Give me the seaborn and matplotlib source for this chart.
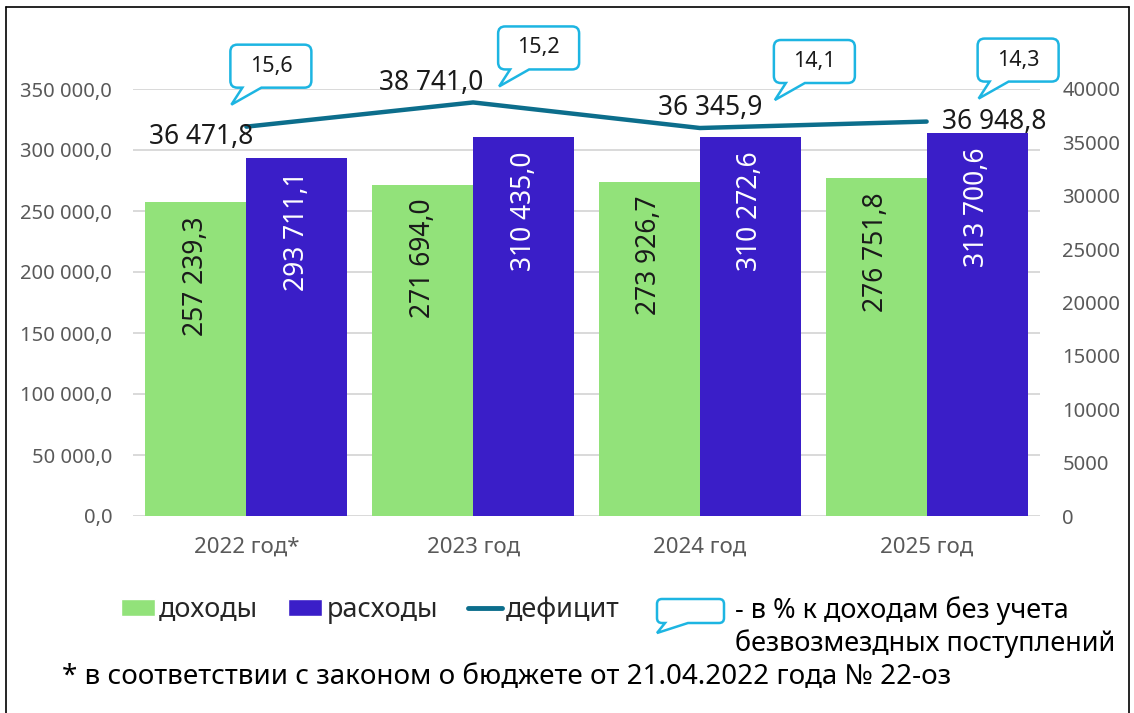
import matplotlib
matplotlib.use("Agg")
import numpy as np
import pandas as pd
import matplotlib.pyplot as plt
import seaborn as sns
from matplotlib.path import Path
from matplotlib.patches import PathPatch, Patch
from matplotlib.lines import Line2D
from matplotlib.ticker import FuncFormatter, MultipleLocator

# =============================================================================
# 1. DATA
# =============================================================================
years = ["2022 год*", "2023 год", "2024 год", "2025 год"]
income = [257239.3, 271694.0, 273926.7, 276751.8]      # доходы
expenses = [293711.1, 310435.0, 310272.6, 313700.6]    # расходы
deficit = [36471.8, 38741.0, 36345.9, 36948.8]         # дефицит
deficit_pct = [15.6, 15.2, 14.1, 14.3]                 # % к доходам без учета безвозмездных поступлений
series_names = ["доходы", "расходы"]

df = pd.DataFrame({
    "year": years * 2,
    "value": income + expenses,
    "kind": [series_names[0]] * len(years) + [series_names[1]] * len(years),
})

# =============================================================================
# 2. STYLE
# =============================================================================
sns.set_style("white")
plt.rcParams["font.family"] = ["Noto Sans", "DejaVu Sans"]

GREEN = "#92E27A"
BLUE = "#3A1EC8"
LINE = "#0C6E8C"
CYAN = "#1DB5E2"
GRID = "#D9D9D9"
TICK = "#595959"
TEXT = "#1A1A1A"

W, H = 1134, 713


def fx(x):
    return x / W


def fy(y):
    return 1 - y / H


def fmt_ru(v, dec=1):
    s = f"{v:,.{dec}f}"
    return s.replace(",", " ").replace(".", ",")


def bubble(L, T, w, h, tip, base, r=7, lw=1.8):
    # speech bubble, given in image pixels (y down)
    R, B = L + w, T + h
    pts = [(base[0], B), tip, (base[1], B), (R - r, B), (R, B), (R, B - r),
           (R, T + r), (R, T), (R - r, T), (L + r, T), (L, T), (L, T + r),
           (L, B - r), (L, B), (L + r, B), (base[0], B), (base[0], B)]
    codes = [Path.MOVETO, Path.LINETO, Path.LINETO, Path.LINETO,
             Path.CURVE3, Path.CURVE3, Path.LINETO, Path.CURVE3, Path.CURVE3,
             Path.LINETO, Path.CURVE3, Path.CURVE3, Path.LINETO,
             Path.CURVE3, Path.CURVE3, Path.LINETO, Path.CLOSEPOLY]
    verts = [(fx(px), fy(py)) for px, py in pts]
    p = PathPatch(Path(verts, codes), transform=fig.transFigure,
                  facecolor="white", edgecolor=CYAN, lw=lw, zorder=5)
    fig.add_artist(p)


# =============================================================================
# 3. PLOT
# =============================================================================
fig = plt.figure(figsize=(W / 100, H / 100), dpi=100)
ax = fig.add_axes([fx(133), fy(516), (1040 - 133) / W, (516 - 89) / H])

sns.barplot(data=df, x="year", y="value", hue="kind", palette=[GREEN, BLUE],
            width=0.89, saturation=1, ax=ax, legend=False, linewidth=0)

ax.set_ylim(0, 350000)
ax.set_xlim(-0.5, 3.5)
ax.yaxis.set_major_locator(MultipleLocator(50000))
ax.yaxis.set_major_formatter(FuncFormatter(lambda v, p: fmt_ru(v)))
ax.grid(axis="y", color=GRID, lw=1.4)
ax.set_axisbelow(True)
for s in ax.spines.values():
    s.set_visible(False)
ax.set_xlabel("")
ax.set_ylabel("")
ax.tick_params(axis="both", length=0, colors=TICK, labelsize=14.5)
ax.tick_params(axis="y", pad=15)
ax.tick_params(axis="x", pad=15, labelsize=16)

# bar labels, rotated, near the top of each bar
label_colors = [TEXT, "white"]
for cont, col in zip(ax.containers, label_colors):
    for bar in cont:
        val = bar.get_height()
        ax.annotate(fmt_ru(val), (bar.get_x() + bar.get_width() / 2, val),
                    xytext=(0, -14), textcoords="offset pixels",
                    rotation=90, ha="center", va="top", fontsize=19, color=col)

# deficit line on the secondary axis
ax2 = ax.twinx()
sns.lineplot(x=np.arange(len(years)), y=deficit, ax=ax2, color=LINE, lw=3.2)
ax2.set_ylim(0, 40000)
ax2.yaxis.set_major_locator(MultipleLocator(5000))
ax2.yaxis.set_major_formatter(FuncFormatter(lambda v, p: f"{v:.0f}"))
ax2.grid(False)
for s in ax2.spines.values():
    s.set_visible(False)
ax2.tick_params(axis="y", length=0, colors=TICK, labelsize=14.5, pad=16)

# deficit value labels (offsets in pixels, image y down)
lab_off = [(-45, 10), (-42, -19), (10, -20), (68, 0)]
for i, d in enumerate(deficit):
    dx, dy = lab_off[i]
    ax2.annotate(fmt_ru(d), (i, d), xytext=(dx, -dy), textcoords="offset pixels",
                 ha="center", va="center", fontsize=19, color=TEXT)

# callouts with % values
tip_off = [(-15, -22), (26, -16), (75, -28), (52, -23)]
for i, (d, pct) in enumerate(zip(deficit, deficit_pct)):
    px, py = ax2.transData.transform((i, d))
    tx, ty = px + tip_off[i][0], (H - py) + tip_off[i][1]
    L, B = tx - 1, ty - 17
    T = B - 43
    bubble(L, T, 81, 43, (tx, ty), (tx + 11, tx + 30))
    fig.text(fx(L + 40.5), fy(T + 21.5), fmt_ru(pct), ha="center", va="center",
             fontsize=15.5, color=TEXT, zorder=6)

# =============================================================================
# 4. LEGEND AND NOTES
# =============================================================================
handles = [Patch(facecolor=GREEN), Patch(facecolor=BLUE),
           Line2D([], [], color=LINE, lw=3.5)]
fig.legend(handles, ["доходы", "расходы", "дефицит"], loc="center left",
           bbox_to_anchor=(fx(121), fy(610)), ncol=3, frameon=False, fontsize=19.5,
           handlelength=1.26, handleheight=0.56, handletextpad=0.15,
           columnspacing=1.1, borderpad=0, borderaxespad=0)

bubble(657, 599, 67, 24, (657, 633), (665, 688), r=5, lw=1.8)
fig.text(fx(735), fy(627), "- в % к доходам без учета\nбезвозмездных поступлений",
         ha="left", va="center", fontsize=19.5, linespacing=1.22, color="black")

fig.text(fx(62), fy(677), "* в соответствии с законом о бюджете от 21.04.2022 года № 22-оз",
         ha="left", va="center", fontsize=20, color="black")

# outer frame
for xs, ys in [((5.5, 5.5), (6.5, H)), ((5.5, 1129), (6.5, 6.5)), ((1129, 1129), (6.5, H))]:
    fig.add_artist(Line2D([fx(x) for x in xs], [fy(y) for y in ys],
                          transform=fig.transFigure, color="black", lw=1.2))

fig.savefig("out.png", dpi=100)
